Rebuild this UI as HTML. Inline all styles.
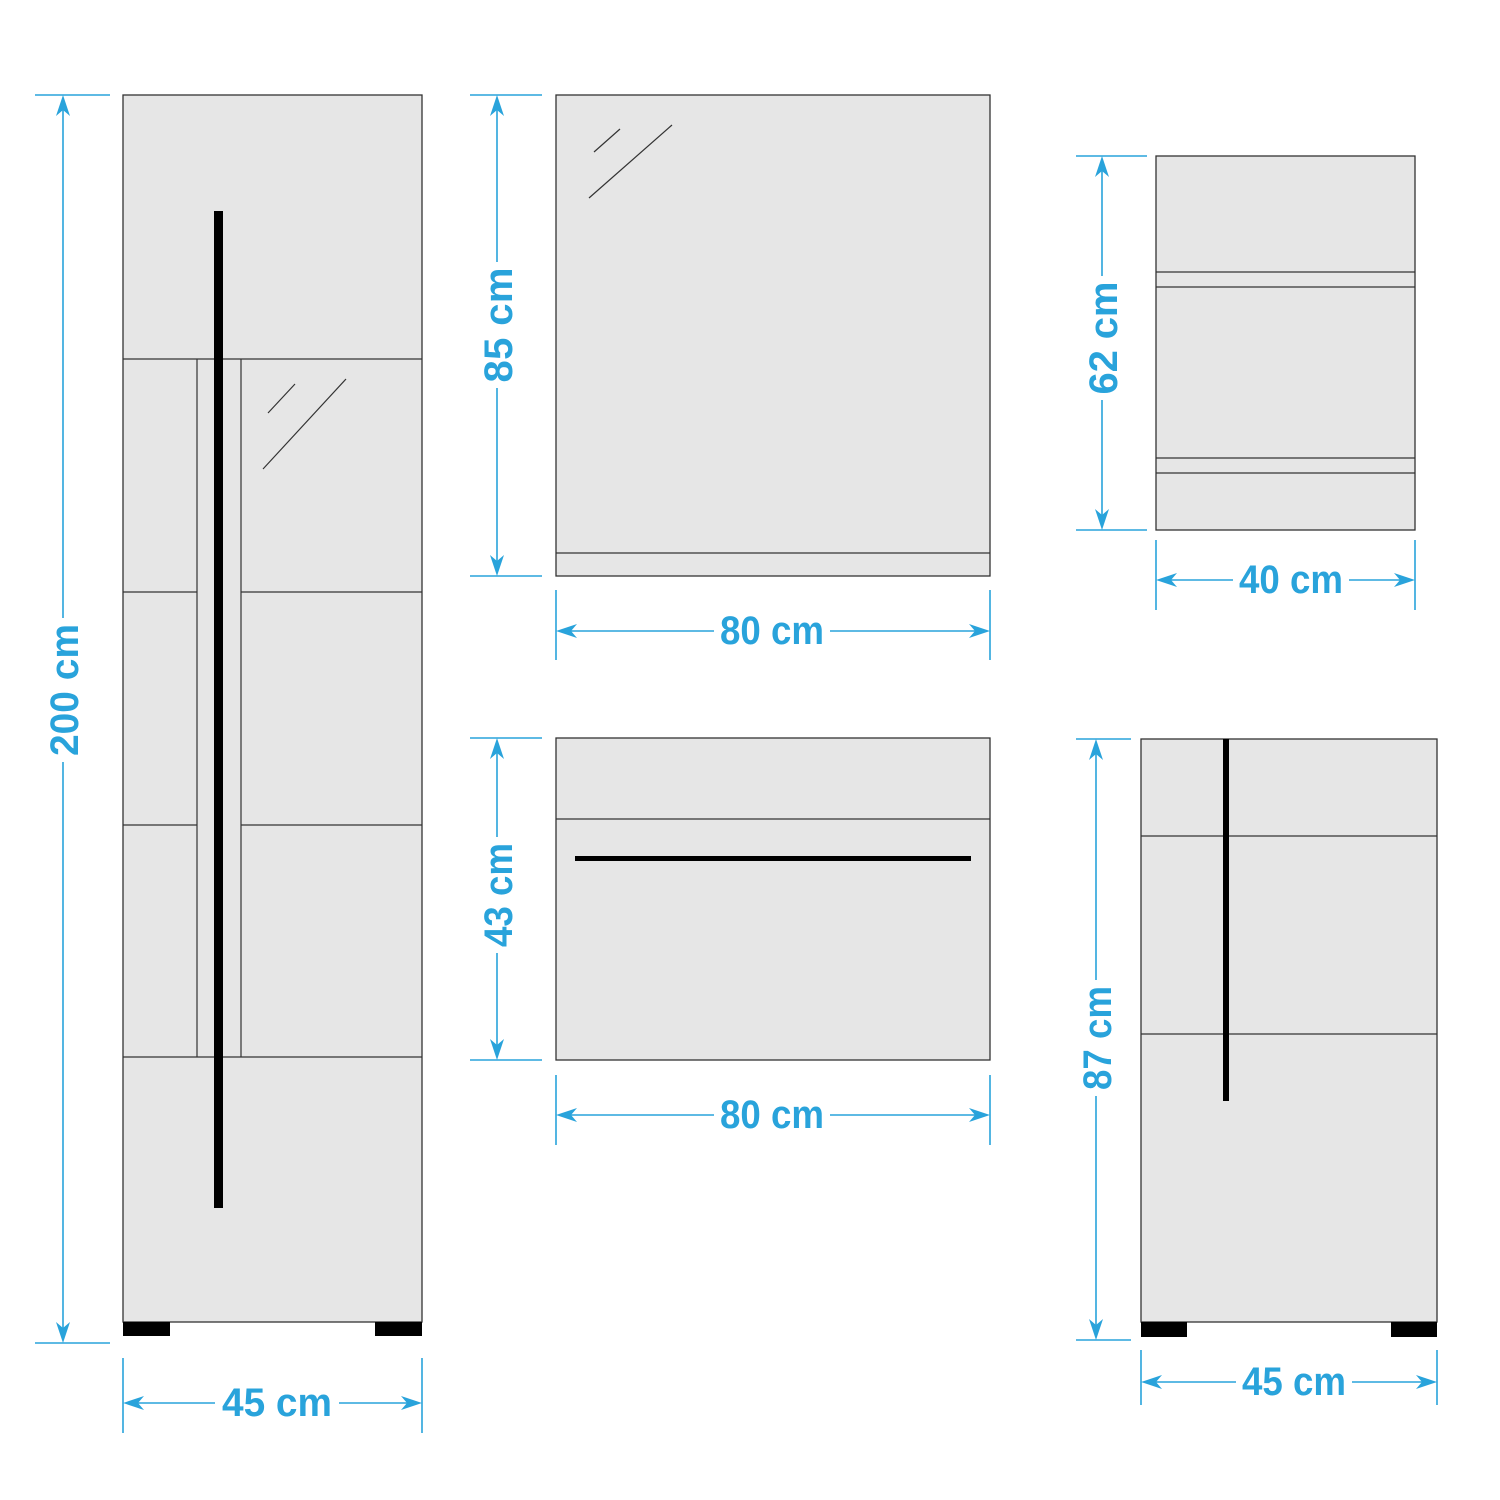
<!DOCTYPE html>
<html><head><meta charset="utf-8"><style>html,body{margin:0;padding:0;background:#fff}svg{display:block}</style></head>
<body>
<svg width="1500" height="1500" viewBox="0 0 1500 1500" xmlns="http://www.w3.org/2000/svg">
<defs>
<path id="au" d="M0 0 L-7 21 L0 15 L7 21 Z" fill="#29a3db"/>
</defs>
<g fill="#e6e6e6" stroke="#333" stroke-width="1.3">
<rect x="123" y="95" width="299" height="1227"/>
<rect x="556" y="95" width="434" height="481"/>
<rect x="1156" y="156" width="259" height="374"/>
<rect x="556" y="738" width="434" height="322"/>
<rect x="1141" y="739" width="296" height="583"/>
</g>
<g stroke="#333" stroke-width="1.2" fill="none">
<path d="M123 359H422M123 592H197M241 592H422M123 825H197M241 825H422M123 1057H422M197 359V1057M241 359V1057"/>
<path d="M268 413L295 384M263 469L346 379"/>
<path d="M556 553H990M594 152L620 129M589 198L672 125"/>
<path d="M1156 272H1415M1156 287H1415M1156 458H1415M1156 473H1415"/>
<path d="M556 819H990"/>
<path d="M1141 836H1437M1141 1034H1437"/>
</g>
<g fill="#000">
<rect x="214" y="211" width="9" height="997"/>
<rect x="123" y="1322" width="47" height="14"/><rect x="375" y="1322" width="47" height="14"/>
<rect x="575" y="856" width="396" height="5"/>
<rect x="1223" y="739" width="6" height="362"/>
<rect x="1141" y="1322" width="46" height="15"/><rect x="1391" y="1322" width="46" height="15"/>
</g>
<g stroke="#29a3db" stroke-width="1.6" fill="none">
<path d="M35 95H110M35 1343H110M63 100V1338"/>
<path d="M123 1358V1433M422 1358V1433M128 1403H417"/>
<path d="M470 95H542M470 576H542M497 100V571"/>
<path d="M556 590V660M990 590V660M561 631H985"/>
<path d="M1076 156H1147M1076 530H1147M1102 161V525"/>
<path d="M1156 540V610M1415 540V610M1161 580H1410"/>
<path d="M470 738H542M470 1060H542M497 743V1055"/>
<path d="M556 1075V1145M990 1075V1145M561 1115H985"/>
<path d="M1076 739H1131M1076 1340H1131M1096 744V1335"/>
<path d="M1141 1350V1405M1437 1350V1405M1146 1382H1432"/>
</g>
<g>
<use href="#au" transform="translate(63,95)"/><use href="#au" transform="translate(63,1343) rotate(180)"/>
<use href="#au" transform="translate(123,1403) rotate(-90)"/><use href="#au" transform="translate(422,1403) rotate(90)"/>
<use href="#au" transform="translate(497,95)"/><use href="#au" transform="translate(497,576) rotate(180)"/>
<use href="#au" transform="translate(556,631) rotate(-90)"/><use href="#au" transform="translate(990,631) rotate(90)"/>
<use href="#au" transform="translate(1102,156)"/><use href="#au" transform="translate(1102,530) rotate(180)"/>
<use href="#au" transform="translate(1156,580) rotate(-90)"/><use href="#au" transform="translate(1415,580) rotate(90)"/>
<use href="#au" transform="translate(497,738)"/><use href="#au" transform="translate(497,1060) rotate(180)"/>
<use href="#au" transform="translate(556,1115) rotate(-90)"/><use href="#au" transform="translate(990,1115) rotate(90)"/>
<use href="#au" transform="translate(1096,739)"/><use href="#au" transform="translate(1096,1340) rotate(180)"/>
<use href="#au" transform="translate(1141,1382) rotate(-90)"/><use href="#au" transform="translate(1437,1382) rotate(90)"/>
</g>
<g fill="#fff">
<rect x="-72" y="-34" width="144" height="40" transform="translate(78,690) rotate(-90)"/>
<rect x="-62" y="-34" width="124" height="40" transform="translate(277,1416)"/>
<rect x="-63" y="-34" width="126" height="40" transform="translate(512,325) rotate(-90)"/>
<rect x="-58" y="-34" width="116" height="40" transform="translate(772,644)"/>
<rect x="-62" y="-34" width="124" height="40" transform="translate(1117,338) rotate(-90)"/>
<rect x="-58" y="-34" width="116" height="40" transform="translate(1291,593)"/>
<rect x="-58" y="-34" width="116" height="40" transform="translate(512,895) rotate(-90)"/>
<rect x="-58" y="-34" width="116" height="40" transform="translate(772,1128)"/>
<rect x="-58" y="-34" width="116" height="40" transform="translate(1111,1038) rotate(-90)"/>
<rect x="-58" y="-34" width="116" height="40" transform="translate(1294,1395)"/>
</g>
<g font-family="Liberation Sans, Arial, sans-serif" font-weight="bold" font-size="40" fill="#29a3db" text-anchor="middle">
<text x="0" y="0" transform="translate(78,690) rotate(-90)" textLength="132" lengthAdjust="spacingAndGlyphs">200 cm</text>
<text x="277" y="1416" textLength="110" lengthAdjust="spacingAndGlyphs">45 cm</text>
<text x="0" y="0" transform="translate(512,325) rotate(-90)" textLength="115" lengthAdjust="spacing">85 cm</text>
<text x="772" y="644" textLength="104" lengthAdjust="spacingAndGlyphs">80 cm</text>
<text x="0" y="0" transform="translate(1117,338) rotate(-90)" textLength="113" lengthAdjust="spacing">62 cm</text>
<text x="1291" y="593" textLength="104" lengthAdjust="spacingAndGlyphs">40 cm</text>
<text x="0" y="0" transform="translate(512,895) rotate(-90)" textLength="104" lengthAdjust="spacingAndGlyphs">43 cm</text>
<text x="772" y="1128" textLength="104" lengthAdjust="spacingAndGlyphs">80 cm</text>
<text x="0" y="0" transform="translate(1111,1038) rotate(-90)" textLength="104" lengthAdjust="spacingAndGlyphs">87 cm</text>
<text x="1294" y="1395" textLength="104" lengthAdjust="spacingAndGlyphs">45 cm</text>
</g>
</svg>
</body></html>
